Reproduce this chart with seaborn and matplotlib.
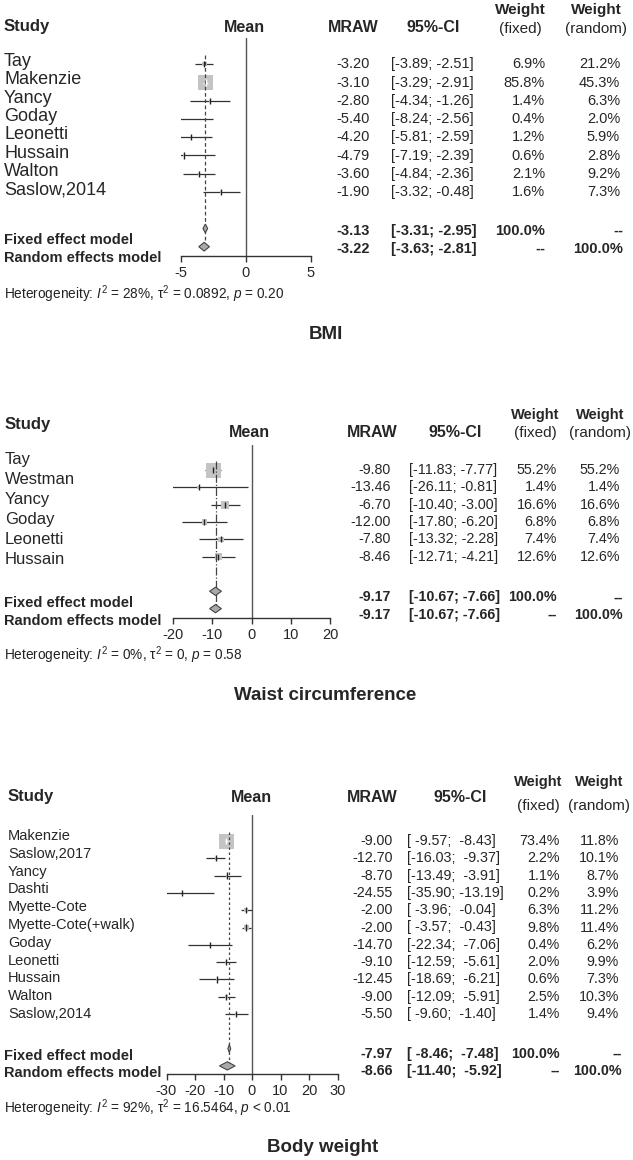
import numpy as np
import pandas as pd
import seaborn as sns
import matplotlib.pyplot as plt
from matplotlib.patches import Polygon

# BMI
bmi_study = ["Tay", "Makenzie", "Yancy", "Goday", "Leonetti", "Hussain", "Walton", "Saslow,2014"]
bmi_mean = [-3.20, -3.10, -2.80, -5.40, -4.20, -4.79, -3.60, -1.90]
bmi_lower = [-3.89, -3.29, -4.34, -8.24, -5.81, -7.19, -4.84, -3.32]
bmi_upper = [-2.51, -2.91, -1.26, -2.56, -2.59, -2.39, -2.36, -0.48]
bmi_w_fixed = [6.9, 85.8, 1.4, 0.4, 1.2, 0.6, 2.1, 1.6]
bmi_w_random = [21.2, 45.3, 6.3, 2.0, 5.9, 2.8, 9.2, 7.3]
bmi_fixed = [-3.13, -3.31, -2.95]
bmi_random = [-3.22, -3.63, -2.81]
bmi_het = r"Heterogeneity: $I^2$ = 28%, τ$^2$ = 0.0892, $p$ = 0.20"

# Waist circumference
waist_study = ["Tay", "Westman", "Yancy", "Goday", "Leonetti", "Hussain"]
waist_mean = [-9.80, -13.46, -6.70, -12.00, -7.80, -8.46]
waist_lower = [-11.83, -26.11, -10.40, -17.80, -13.32, -12.71]
waist_upper = [-7.77, -0.81, -3.00, -6.20, -2.28, -4.21]
waist_w_fixed = [55.2, 1.4, 16.6, 6.8, 7.4, 12.6]
waist_w_random = [55.2, 1.4, 16.6, 6.8, 7.4, 12.6]
waist_fixed = [-9.17, -10.67, -7.66]
waist_random = [-9.17, -10.67, -7.66]
waist_het = r"Heterogeneity: $I^2$ = 0%, τ$^2$ = 0, $p$ = 0.58"

# Body weight
bw_study = ["Makenzie", "Saslow,2017", "Yancy", "Dashti", "Myette-Cote", "Myette-Cote(+walk)",
            "Goday", "Leonetti", "Hussain", "Walton", "Saslow,2014"]
bw_mean = [-9.00, -12.70, -8.70, -24.55, -2.00, -2.00, -14.70, -9.10, -12.45, -9.00, -5.50]
bw_lower = [-9.57, -16.03, -13.49, -35.90, -3.96, -3.57, -22.34, -12.59, -18.69, -12.09, -9.60]
bw_upper = [-8.43, -9.37, -3.91, -13.19, -0.04, -0.43, -7.06, -5.61, -6.21, -5.91, -1.40]
bw_w_fixed = [73.4, 2.2, 1.1, 0.2, 6.3, 9.8, 0.4, 2.0, 0.6, 2.5, 1.4]
bw_w_random = [11.8, 10.1, 8.7, 3.9, 11.2, 11.4, 6.2, 9.9, 7.3, 10.3, 9.4]
bw_fixed = [-7.97, -8.46, -7.48]
bw_random = [-8.66, -11.40, -5.92]
bw_het = r"Heterogeneity: $I^2$ = 92%, τ$^2$ = 16.5464, $p$ < 0.01"

sns.set_style("white")
plt.rcParams['font.family'] = ['Liberation Sans', 'DejaVu Sans']
plt.rcParams['axes.unicode_minus'] = False
plt.rcParams['mathtext.fontset'] = 'custom'
plt.rcParams['mathtext.rm'] = 'Liberation Sans'
plt.rcParams['mathtext.it'] = 'Liberation Sans:italic'

W, H = 633, 1160
fig = plt.figure(figsize=(W / 100, H / 100), dpi=100)


def fx(x):
    return x / W


def fy(y):
    return 1 - y / H


# pixel layout of each panel
layouts = [
    dict(title="BMI", xlim=(-5, 5), ticks=[-5, 0, 5], left=181, right=311, top=38, bottom=256,
         row0=64.3, sp=18.24, name_x=4, name0=61.5, name_sp=18.3, name_fs=13, num_fs=10.5,
         study_x=4, study_y=27, mean_x=244, mraw_x=353, mraw_r=370, ci_x=433, ci_l=391,
         wf_x=520, wf_r=545, wr_x=596, wr_r=620, head_y=27, weight_y=10, paren_y=29, wt_fs=11,
         lab_dy=11.5, num_dy=2.5, het_y=294, title_x=326, title_y=335, dash=(0, (3, 2))),
    dict(title="Waist circumference", xlim=(-20, 20), ticks=[-20, -10, 0, 10, 20], left=173, right=330,
         top=445, bottom=618, row0=470, sp=17.33, name_x=5, name0=459.3, name_sp=20.1, name_fs=12,
         num_fs=10.3, study_x=5, study_y=425, mean_x=249, mraw_x=372, mraw_r=391, ci_x=455, ci_l=409,
         wf_x=535, wf_r=557, wr_x=600, wr_r=620, head_y=432, weight_y=415, paren_y=433, wt_fs=10.5,
         lab_dy=12, num_dy=6, het_y=655, title_x=325, title_y=695, dash="-."),
    dict(title="Body weight", xlim=(-30, 30), ticks=[-30, -20, -10, 0, 10, 20, 30], left=166.5, right=337.5,
         top=815, bottom=1074, row0=841, sp=17.3, name_x=8, name0=836, name_sp=17.8, name_fs=10.5,
         num_fs=10.3, study_x=8, study_y=797, mean_x=251, mraw_x=372, mraw_r=393, ci_x=460, ci_l=407,
         wf_x=538, wf_r=560, wr_x=599, wr_r=619, head_y=798, weight_y=782, paren_y=806, wt_fs=10.5,
         lab_dy=7.5, num_dy=5, het_y=1108, title_x=323, title_y=1148, dash=(0, (2, 2))),
]

datasets = [
    (bmi_study, bmi_mean, bmi_lower, bmi_upper, bmi_w_fixed, bmi_w_random, bmi_fixed, bmi_random, bmi_het),
    (waist_study, waist_mean, waist_lower, waist_upper, waist_w_fixed, waist_w_random, waist_fixed, waist_random, waist_het),
    (bw_study, bw_mean, bw_lower, bw_upper, bw_w_fixed, bw_w_random, bw_fixed, bw_random, bw_het),
]

SQ_MAX_PX = 15


def draw_panel(data, lay):
    study, mean, lower, upper, wf, wr, fixed, random, het = data
    df = pd.DataFrame({"study": study, "mean": mean, "lower": lower, "upper": upper,
                       "wf": wf, "wr": wr})
    n = len(df)
    df["row"] = np.arange(n)
    row_fixed, row_random = n + 1, n + 2

    ax = fig.add_axes([fx(lay["left"]), fy(lay["bottom"]),
                       (lay["right"] - lay["left"]) / W, (lay["bottom"] - lay["top"]) / H])
    y_bot = (lay["bottom"] - lay["row0"]) / lay["sp"]
    y_top = (lay["top"] - lay["row0"]) / lay["sp"]
    ax.set_xlim(*lay["xlim"])
    ax.set_ylim(y_bot, y_top)

    # is the confidence interval narrower than the square?
    ppu = (lay["right"] - lay["left"]) / (lay["xlim"][1] - lay["xlim"][0])
    side = SQ_MAX_PX * np.sqrt(df["wf"] / df["wf"].max())
    inside = (df["upper"] - df["lower"]) * ppu < side

    ax.axvline(0, color="#555555", lw=1, zorder=1)
    ax.hlines(df["row"], df["lower"], df["upper"], color="#333333", lw=0.9, zorder=2)
    sns.scatterplot(data=df, x="mean", y="row", size="wf", sizes=(0, (SQ_MAX_PX * 0.72) ** 2),
                    size_norm=(0, df["wf"].max()), marker="s", color="#c4c4c4", linewidth=0,
                    legend=False, ax=ax, zorder=3)
    sub = df[inside]
    ax.hlines(sub["row"], sub["lower"], sub["upper"], color="white", lw=0.9, zorder=4)
    ax.scatter(df["mean"], df["row"], marker="|", s=20, lw=1,
               c=["white" if v else "#222222" for v in inside], zorder=5)
    ax.vlines(fixed[0], -0.5, row_random, color="#444444", lw=0.9, linestyles=[lay["dash"]], zorder=4)

    for r, (est, lo, hi) in [(row_fixed, fixed), (row_random, random)]:
        h = 0.24
        ax.add_patch(Polygon([(lo, r), (est, r - h), (hi, r), (est, r + h)], closed=True,
                             facecolor="#a9a9a9", edgecolor="#444444", lw=0.8, zorder=5))

    sns.despine(ax=ax, left=True, top=True, right=True)
    ax.spines["bottom"].set_bounds(*lay["xlim"])
    ax.spines["bottom"].set_color("#333333")
    ax.spines["bottom"].set_linewidth(1)
    ax.set_yticks([])
    ax.set_xticks(lay["ticks"])
    ax.set_xticklabels([str(t) for t in lay["ticks"]])
    ax.tick_params(axis="x", direction="out", length=4.5, width=1, color="#333333",
                   labelsize=10.5, pad=2.5, bottom=True)
    ax.set_xlabel("")
    ax.set_ylabel("")
    ax.patch.set_alpha(0)

    # headers
    fig.text(fx(lay["study_x"]), fy(lay["study_y"]), "Study", fontsize=12, fontweight="bold", va="center")
    fig.text(fx(lay["mean_x"]), fy(lay["head_y"]), "Mean", fontsize=11.5, fontweight="bold",
             ha="center", va="center")
    fig.text(fx(lay["mraw_x"]), fy(lay["head_y"]), "MRAW", fontsize=11.5, fontweight="bold",
             ha="center", va="center")
    fig.text(fx(lay["ci_x"]), fy(lay["head_y"]), "95%-CI", fontsize=11.5, fontweight="bold",
             ha="center", va="center")
    for xc, sub_lab in [(lay["wf_x"], "(fixed)"), (lay["wr_x"], "(random)")]:
        fig.text(fx(xc), fy(lay["weight_y"]), "Weight", fontsize=lay["wt_fs"], fontweight="bold",
                 ha="center", va="center")
        fig.text(fx(xc), fy(lay["paren_y"]), sub_lab, fontsize=11, ha="center", va="center")

    # study rows
    all_lo = list(df["lower"]) + [fixed[1], random[1]]
    all_hi = list(df["upper"]) + [fixed[2], random[2]]
    lw = max(len(f"{v:.2f}") for v in all_lo)
    hw = max(len(f"{v:.2f}") for v in all_hi)
    nfs = lay["num_fs"]
    for i, r in df.iterrows():
        y_name = lay["name0"] + i * lay["name_sp"]
        y_num = lay["row0"] + i * lay["sp"]
        fig.text(fx(lay["name_x"]), fy(y_name), r["study"], fontsize=lay["name_fs"], va="center")
        fig.text(fx(lay["mraw_r"]), fy(y_num), f"{r['mean']:.2f}", fontsize=nfs, ha="right", va="center")
        fig.text(fx(lay["ci_l"]), fy(y_num), f"[{r['lower']:{lw}.2f}; {r['upper']:{hw}.2f}]",
                 fontsize=nfs, va="center")
        fig.text(fx(lay["wf_r"]), fy(y_num), f"{r['wf']:.1f}%", fontsize=nfs, ha="right", va="center")
        fig.text(fx(lay["wr_r"]), fy(y_num), f"{r['wr']:.1f}%", fontsize=nfs, ha="right", va="center")

    # model rows
    models = [("Fixed effect model", row_fixed, fixed, "100.0%", "--"),
              ("Random effects model", row_random, random, "--", "100.0%")]
    for lab, r, (est, lo, hi), wfs, wrs in models:
        y_d = lay["row0"] + r * lay["sp"]
        fig.text(fx(4), fy(y_d + lay["lab_dy"]), lab, fontsize=10.5, fontweight="bold", va="center")
        y_n = y_d + lay["num_dy"]
        fig.text(fx(lay["mraw_r"]), fy(y_n), f"{est:.2f}", fontsize=nfs, fontweight="bold",
                 ha="right", va="center")
        fig.text(fx(lay["ci_l"]), fy(y_n), f"[{lo:{lw}.2f}; {hi:{hw}.2f}]", fontsize=nfs,
                 fontweight="bold", va="center")
        fig.text(fx(lay["wf_r"]), fy(y_n), wfs, fontsize=nfs, fontweight="bold", ha="right", va="center")
        fig.text(fx(lay["wr_r"] + 3), fy(y_n), wrs, fontsize=nfs, fontweight="bold", ha="right", va="center")

    fig.text(fx(4), fy(lay["het_y"]), het, fontsize=9.8, va="center", color="#222222")
    fig.text(fx(lay["title_x"]), fy(lay["title_y"]), lay["title"], fontsize=13.5, fontweight="bold",
             ha="center", va="center")


for data, lay in zip(datasets, layouts):
    draw_panel(data, lay)

fig.savefig("out.png", dpi=100, facecolor="white")
